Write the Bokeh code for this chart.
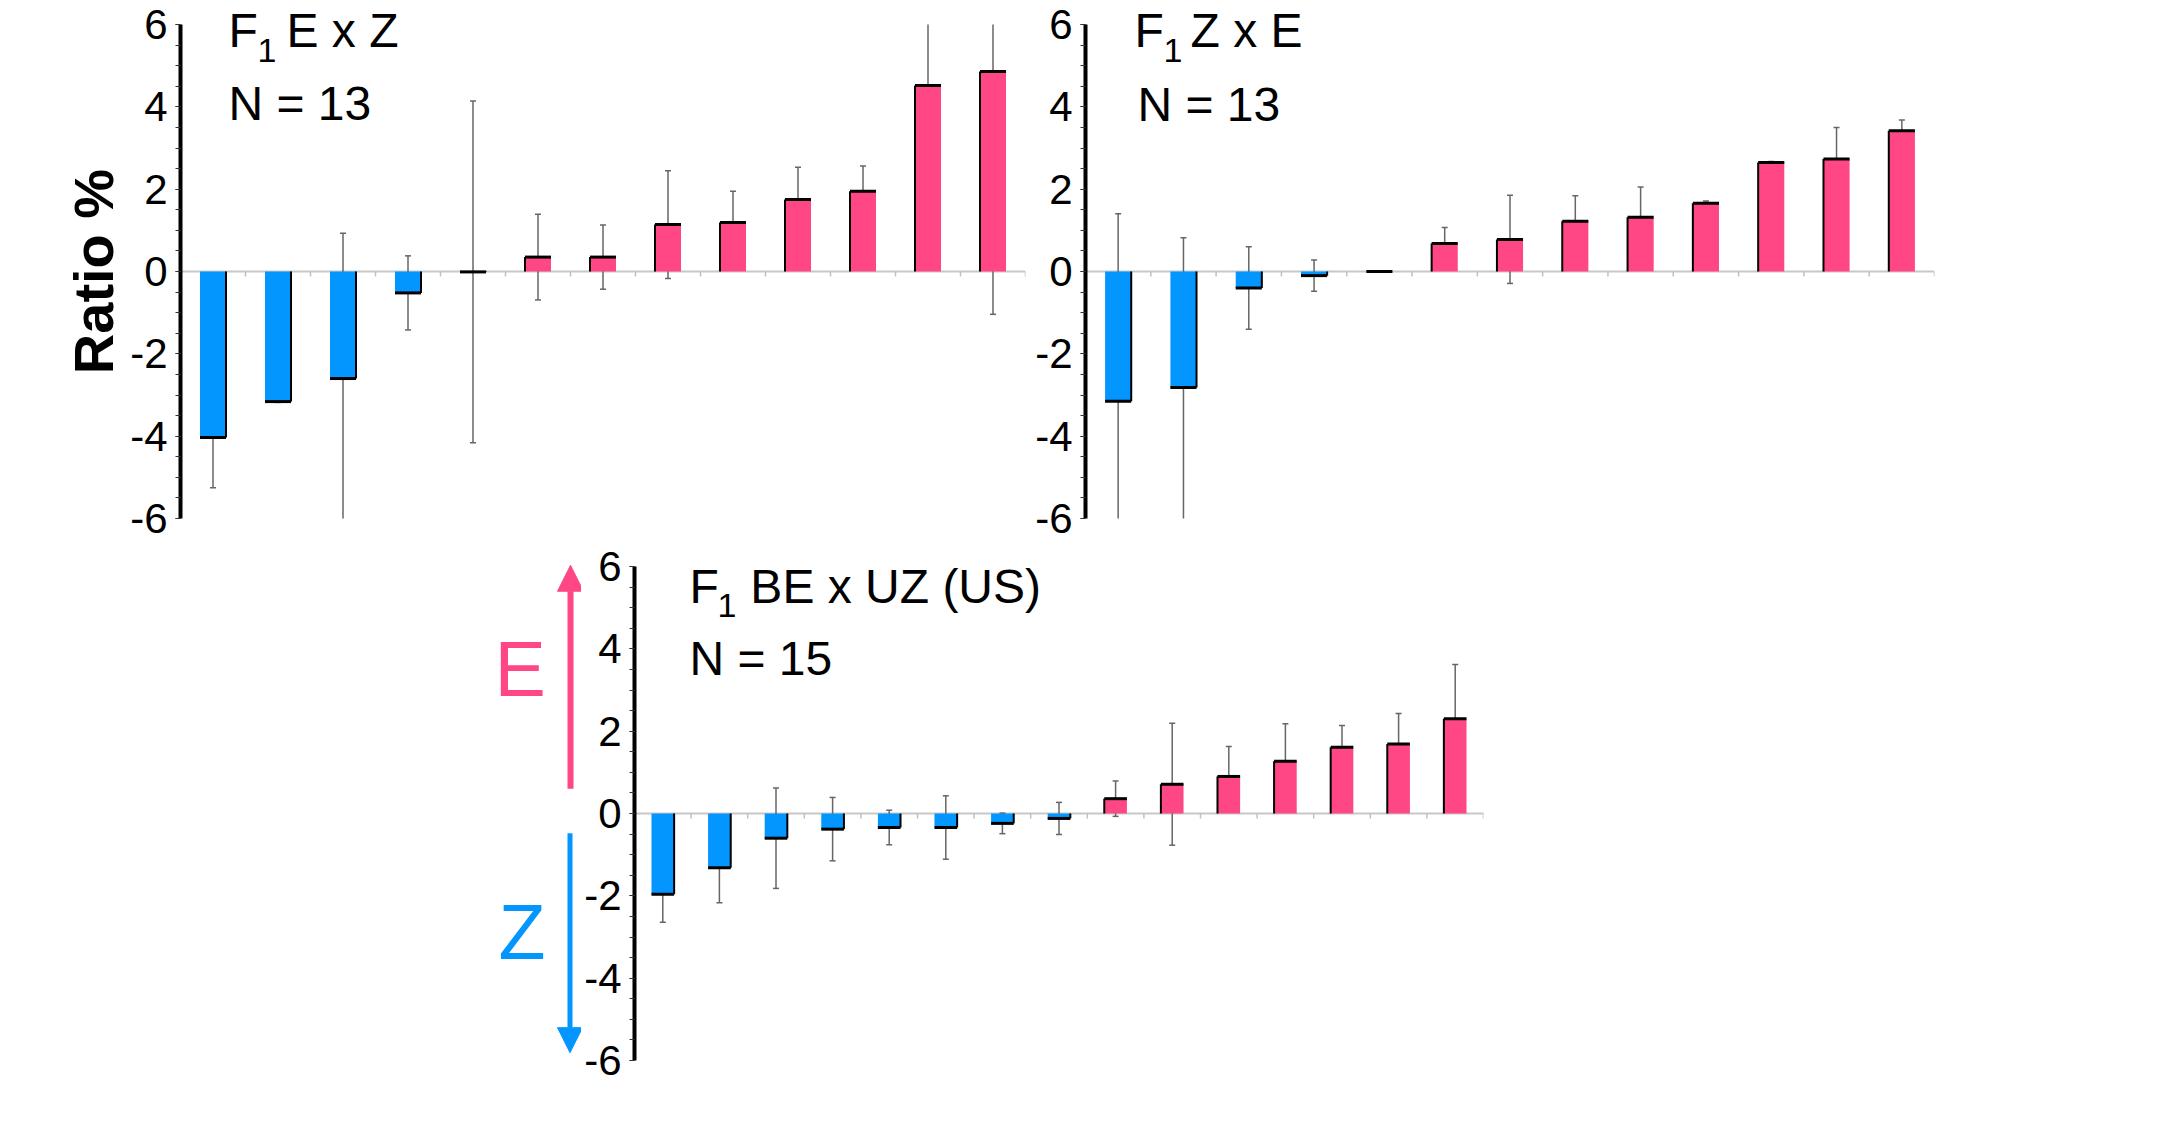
import numpy as np
from bokeh.plotting import figure
from bokeh.models import Range1d, FixedTicker, Span, Spacer, Arrow, NormalHead, Label
from bokeh.layouts import column, row
from bokeh.embed import file_html
from bokeh.resources import INLINE

# ---------------- data ----------------
p1_vals = [-4.03, -3.16, -2.60, -0.52, -0.01, 0.35, 0.35, 1.14, 1.19, 1.75, 1.95, 4.52, 4.86]
p1_errs = [1.22, 0.02, 3.53, 0.90, 4.15, 1.04, 0.78, 1.31, 0.76, 0.78, 0.61, 1.80, 5.90]

p2_vals = [-3.15, -2.82, -0.40, -0.10, 0.00, 0.68, 0.78, 1.22, 1.32, 1.66, 2.65, 2.73, 3.42]
p2_errs = [4.55, 3.64, 1.00, 0.38, 0.00, 0.39, 1.07, 0.62, 0.73, 0.05, 0.02, 0.77, 0.26]

p3_vals = [-1.96, -1.32, -0.60, -0.38, -0.34, -0.34, -0.24, -0.12, 0.36, 0.71, 0.90, 1.27, 1.61, 1.69, 2.30]
p3_errs = [0.68, 0.85, 1.22, 0.77, 0.42, 0.77, 0.25, 0.39, 0.43, 1.48, 0.73, 0.91, 0.53, 0.74, 1.32]

titles = ["E x Z", "Z x E", "BE x UZ (US)"]
n_labels = ["N = 13", "N = 13", "N = 15"]
y_ticks = [-6, -4, -2, 0, 2, 4, 6]
y_tick_labels = ["-6", "-4", "-2", "0", "2", "4", "6"]
y_minor = [t / 2 for t in range(-12, 13)]
Y_MIN, Y_MAX = -6, 6

PINK = "#FF4785"
BLUE = "#0496FF"
FONT = "Liberation Sans"
MID = 0.3465          # baseline -> middle-of-text-box offset (em)

# vertical geometry (frame fills the whole canvas, axis bounded to -6..6)
PAD_T, FH, PAD_B = 24, 494, 24
PPU = FH / 12.0
H = PAD_T + FH + PAD_B
Y_RANGE = (Y_MIN - PAD_B / PPU, Y_MAX + PAD_T / PPU)


def add_text(p, x, y_base, text, size, color="black"):
    """x in data units, y_base = baseline in data units"""
    p.add_layout(Label(x=x, y=y_base + MID * size / PPU, text=text,
                       text_font=FONT, text_font_size=f"{size}px", text_color=color,
                       text_align="left", text_baseline="middle"))


def make_panel(vals, errs, title, nlab, page_x, mbl, fw, mbr,
               txt, ref_top, ref_ppu, ylabel=None):
    n = len(vals)
    W = mbl + fw + mbr
    p = figure(width=W, height=H, x_range=Range1d(0, n), y_range=Range1d(*Y_RANGE),
               output_backend="svg", toolbar_location=None,
               min_border_left=mbl, min_border_right=mbr,
               min_border_top=0, min_border_bottom=0)
    p.outline_line_color = None
    p.grid.visible = False
    p.xaxis.visible = False

    ya = p.yaxis[0]
    ya.bounds = (Y_MIN, Y_MAX)
    ya.ticker = FixedTicker(ticks=y_ticks, minor_ticks=y_minor)
    ya.major_label_overrides = {t: lab for t, lab in zip(y_ticks, y_tick_labels)}
    ya.axis_line_width = 4
    ya.axis_line_color = "black"
    ya.major_tick_out = 5
    ya.major_tick_in = 0
    ya.minor_tick_out = 5
    ya.minor_tick_in = 0
    ya.major_tick_line_color = "#333333"
    ya.minor_tick_line_color = "#333333"
    ya.major_label_text_font = FONT
    ya.major_label_text_font_size = "42px"
    ya.major_label_text_color = "black"
    ya.major_label_standoff = 8
    if ylabel:
        ya.axis_label = ylabel
        ya.axis_label_text_font = FONT
        ya.axis_label_text_font_style = "bold"
        ya.axis_label_text_font_size = "56px"
        ya.axis_label_text_color = "black"
        ya.axis_label_standoff = 2

    p.add_layout(Span(location=0, dimension="width", line_color="#c8c8c8",
                      line_width=2, level="underlay"))

    x = np.arange(n) + 0.5
    v = np.array(vals)
    e = np.array(errs)
    bw = 0.4
    ppx = fw / n
    cap = 3.0 / ppx

    b = np.arange(1, n + 1)
    p.segment(x0=b, y0=np.zeros(n), x1=b, y1=np.full(n, -5.0 / PPU),
              line_color="#c0c0c0", line_width=1.5)

    # error bars, cut at the axis limits like the original
    lo = v - e
    hi = v + e
    lo_c = np.clip(lo, Y_MIN, Y_MAX)
    hi_c = np.clip(hi, Y_MIN, Y_MAX)
    p.segment(x0=x, y0=lo_c, x1=x, y1=hi_c, line_color="#666666", line_width=1.5)
    mh = hi <= Y_MAX
    ml = lo >= Y_MIN
    p.segment(x0=(x - cap)[mh], y0=hi[mh], x1=(x + cap)[mh], y1=hi[mh],
              line_color="#666666", line_width=1.5)
    p.segment(x0=(x - cap)[ml], y0=lo[ml], x1=(x + cap)[ml], y1=lo[ml],
              line_color="#666666", line_width=1.5)

    colors = [PINK if val > 0 else BLUE for val in vals]
    p.vbar(x=x, width=bw, top=v, bottom=0, fill_color=colors, line_color=None)
    p.segment(x0=x - bw / 2, y0=v, x1=x + bw / 2, y1=v, line_color="black", line_width=3)
    side = np.where(v > 0, x - bw / 2, x + bw / 2)
    p.segment(x0=side, y0=np.zeros(n), x1=side, y1=v, line_color="black", line_width=2)

    fl = page_x + mbl

    def dx(px):
        return (px - fl) / ppx

    def dy(py):
        return Y_MAX - (py - ref_top) / ref_ppu

    (fx, fy), (sx, sy), (rx, ry), (nx, ny) = txt
    add_text(p, dx(fx), dy(fy), "F", 48)
    add_text(p, dx(sx), dy(sy), "1", 34)
    add_text(p, dx(rx), dy(ry), title, 48)
    add_text(p, dx(nx), dy(ny), nlab, 48)
    return p


ROW1_TOP = 8 + PAD_T
p1 = make_panel(p1_vals, p1_errs, titles[0], n_labels[0],
                page_x=8, mbl=180, fw=845, mbr=3,
                txt=[(236, 55), (265, 70), (294, 55), (236, 128)],
                ref_top=ROW1_TOP, ref_ppu=PPU, ylabel="Ratio %")
p2 = make_panel(p2_vals, p2_errs, titles[1], n_labels[1],
                page_x=1036, mbl=57, fw=849, mbr=10,
                txt=[(1142, 55), (1171, 70), (1198, 55), (1145, 129)],
                ref_top=ROW1_TOP, ref_ppu=PPU)
p3 = make_panel(p3_vals, p3_errs, titles[2], n_labels[2],
                page_x=589, mbl=52, fw=850, mbr=10,
                txt=[(696, 593), (724, 608), (757, 593), (696, 666)],
                ref_top=556, ref_ppu=41.8)

# side panel with the E / Z arrows (x in page pixels, y in ratio units of panel 3)
PA_X0, PA_X1 = 495, 589
pa = figure(width=PA_X1 - PA_X0, height=H,
            x_range=Range1d(PA_X0, PA_X1), y_range=Range1d(*Y_RANGE),
            output_backend="svg", toolbar_location=None,
            x_axis_type=None, y_axis_type=None, min_border=0)
pa.outline_line_color = None
pa.grid.visible = False

e_arrow = (0.60, 6.03)
z_arrow = (-0.48, -5.81)
e_base, z_base = 2.85, -3.52
pa.add_layout(Arrow(end=NormalHead(size=26, fill_color=PINK, line_color=PINK, line_width=1),
                    x_start=578, y_start=e_arrow[0], x_end=578, y_end=e_arrow[1],
                    line_color=PINK, line_width=6))
pa.add_layout(Arrow(end=NormalHead(size=25, fill_color=BLUE, line_color=BLUE, line_width=1),
                    x_start=577.5, y_start=z_arrow[0], x_end=577.5, y_end=z_arrow[1],
                    line_color=BLUE, line_width=5))
add_text(pa, 502, e_base, "E", 77, PINK)
add_text(pa, 506, z_base, "Z", 77, BLUE)

layout = column(row(p1, p2), row(Spacer(width=PA_X0 - 8, height=H), pa, p3))

open("out.html", "w").write(file_html(layout, INLINE))
